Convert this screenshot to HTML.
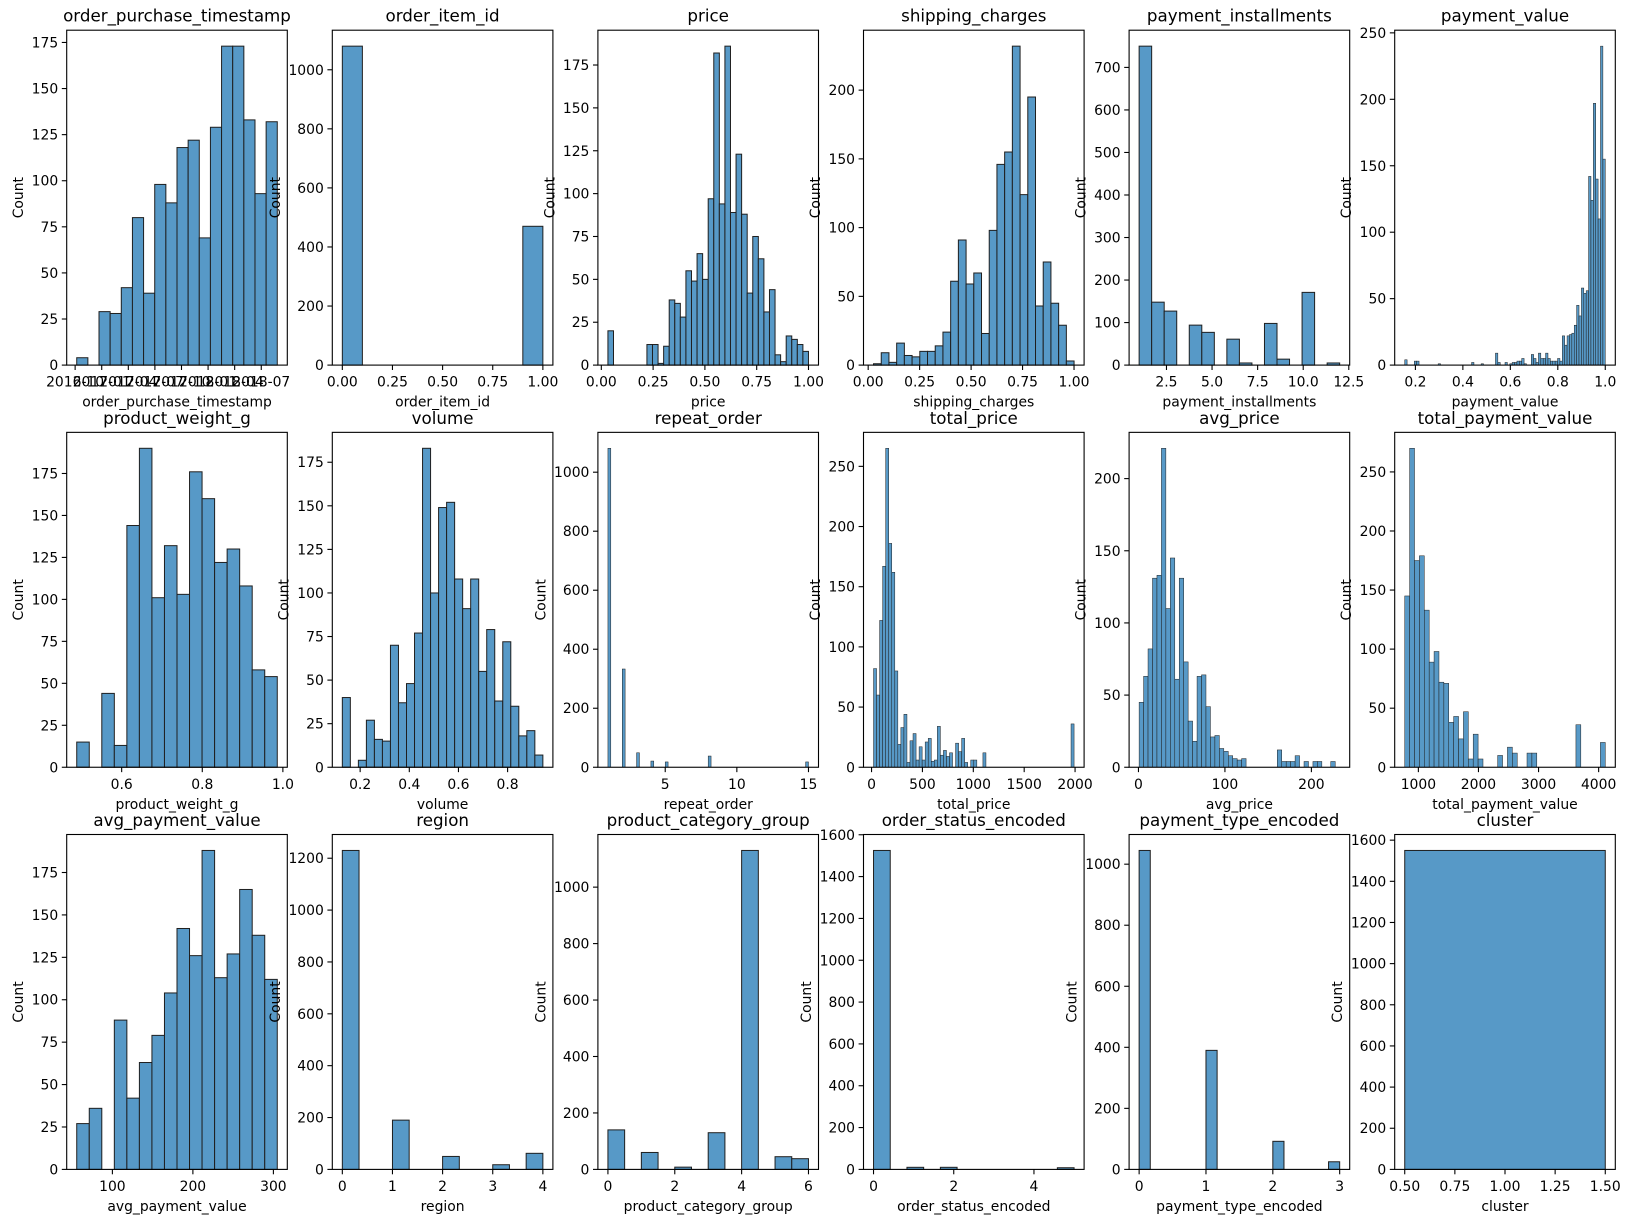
<!DOCTYPE html>
<html><head><meta charset="utf-8">
<style>
html,body{margin:0;padding:0;background:#fff;}
svg{display:block;font-family:"DejaVu Sans","Liberation Sans",sans-serif;}
</style></head>
<body>
<svg id="fig" width="1631" height="1222" viewBox="0 0 1631 1222" xmlns="http://www.w3.org/2000/svg"></svg>
<script>
// ---------- data ----------
const tsStart = 0.18, tsWidth = 1.257;
const tsCounts = [4,0,29,28,42,80,39,98,88,118,122,69,129,173,173,133,93,132];
const tsTicks = [0,3,6,9,12,15,18,21];
const tsLabels = ["2016-10","2017-01","2017-04","2017-07","2017-10","2018-01","2018-04","2018-07"];

const itemStart = 0, itemWidth = 0.1;
const itemCounts = [1080,0,0,0,0,0,0,0,0,470];

const priceStart = 0.0319, priceWidth = 0.02689;
const priceCounts = [20,0,0,0,0,0,0,12,12,1,11,38,36,28,55,49,65,50,97,182,94,186,89,123,88,42,75,62,31,44,6,2,17,15,12,8];

const shipStart = 0.026, shipWidth = 0.03747;
const shipCounts = [1,9,2,16,7,6,10,10,14,24,61,91,59,67,23,98,146,155,232,124,195,43,75,45,29,3];

const instStart = 1, instWidth = 0.6875;
const instCounts = [750,148,127,0,94,77,0,61,5,0,98,14,0,171,0,5];

const pvStart = 0.155, pvWidth = 0.01006;
const pvCounts = [4,0,0,0,3,3,0,0,0,0,0,0,0,0,1,0,0,0,0,0,0,0,0,0,0,0,0,0,2,0,0,0,1,0,0,0,0,0,9,2,0,0,2,0,1,2,2,3,3,5,1,0,0,8,5,2,9,5,5,9,5,3,3,3,5,3,22,15,22,23,24,30,45,37,58,54,56,142,124,197,140,110,240,155];

const pwStart = 0.4885, pwWidth = 0.0311;
const pwCounts = [15,0,44,13,144,190,101,132,103,176,160,122,130,108,58,54];

const volStart = 0.1275, volWidth = 0.03264;
const volCounts = [40,0,4,27,16,15,70,37,48,77,183,100,149,152,108,91,108,55,79,38,72,35,18,21,7];

const roStart = 1, roWidth = 0.2;
const roCounts = [1081,0,0,0,0,333,0,0,0,0,49,0,0,0,0,21,0,0,0,0,18,0,0,0,0,0,0,0,0,0,0,0,0,0,0,38,0,0,0,0,0,0,0,0,0,0,0,0,0,0,0,0,0,0,0,0,0,0,0,0,0,0,0,0,0,0,0,0,0,18];

const tpStart = 19.5, tpWidth = 29.86;
const tpCounts = [82,60,122,167,265,186,162,80,19,33,44,4,22,28,6,17,6,21,24,5,6,34,10,14,9,12,0,20,13,24,4,0,6,6,0,0,12,0,0,0,0,0,0,0,0,0,0,0,0,0,0,0,0,0,0,0,0,0,0,0,0,0,0,0,0,36];

const apStart = 0.77, apWidth = 5.154;
const apCounts = [45,63,82,131,133,221,110,145,61,131,73,32,18,63,64,42,21,22,13,11,8,6,5,6,0,0,0,0,0,0,0,12,4,4,4,8,0,4,0,4,4,0,0,4,0];

const tpvStart = 773, tpvWidth = 81.4;
const tpvCounts = [145,270,175,179,133,89,98,72,71,38,43,24,47,7,28,7,0,0,0,10,0,17,12,0,0,12,12,0,0,0,0,0,0,0,0,36,0,0,0,0,21];

const apvStart = 55.7, apvWidth = 15.57;
const apvCounts = [27,36,0,88,42,63,79,104,142,126,188,113,127,165,138,112];

const regStart = 0, regWidth = 1/3;
const regCounts = [1230,0,0,190,0,0,50,0,0,18,0,62];

const pcgStart = 0, pcgWidth = 0.5;
const pcgCounts = [140,0,60,0,8,0,130,0,1130,0,45,38];

const osStart = 0, osWidth = 5/12;
const osCounts = [1525,0,10,0,10,0,0,0,0,0,0,8];

const ptStart = 0, ptWidth = 1/6;
const ptCounts = [1045,0,0,0,0,0,390,0,0,0,0,0,92,0,0,0,0,25];

const clStart = 0.5, clWidth = 1;
const clCounts = [1550];

// ---------- specs ----------
const charts = [
 {id:"order-purchase-timestamp",title:"order_purchase_timestamp",s:tsStart,w:tsWidth,c:tsCounts,xt:tsTicks,xl:tsLabels,yt:25},
 {id:"order-item-id",title:"order_item_id",s:itemStart,w:itemWidth,c:itemCounts,xt:[0,0.25,0.5,0.75,1],xl:["0.00","0.25","0.50","0.75","1.00"],yt:200},
 {id:"price",title:"price",s:priceStart,w:priceWidth,c:priceCounts,xt:[0,0.25,0.5,0.75,1],xl:["0.00","0.25","0.50","0.75","1.00"],yt:25},
 {id:"shipping-charges",title:"shipping_charges",s:shipStart,w:shipWidth,c:shipCounts,xt:[0,0.25,0.5,0.75,1],xl:["0.00","0.25","0.50","0.75","1.00"],yt:50},
 {id:"payment-installments",title:"payment_installments",s:instStart,w:instWidth,c:instCounts,xt:[2.5,5,7.5,10,12.5],xl:["2.5","5.0","7.5","10.0","12.5"],yt:100},
 {id:"payment-value",title:"payment_value",s:pvStart,w:pvWidth,c:pvCounts,xt:[0.2,0.4,0.6,0.8,1.0],xl:["0.2","0.4","0.6","0.8","1.0"],yt:50},
 {id:"product-weight-g",title:"product_weight_g",s:pwStart,w:pwWidth,c:pwCounts,xt:[0.6,0.8,1.0],xl:["0.6","0.8","1.0"],yt:25},
 {id:"volume",title:"volume",s:volStart,w:volWidth,c:volCounts,xt:[0.2,0.4,0.6,0.8],xl:["0.2","0.4","0.6","0.8"],yt:25},
 {id:"repeat-order",title:"repeat_order",s:roStart,w:roWidth,c:roCounts,xt:[5,10,15],xl:["5","10","15"],yt:200},
 {id:"total-price",title:"total_price",s:tpStart,w:tpWidth,c:tpCounts,xt:[0,500,1000,1500,2000],xl:["0","500","1000","1500","2000"],yt:50},
 {id:"avg-price",title:"avg_price",s:apStart,w:apWidth,c:apCounts,xt:[0,100,200],xl:["0","100","200"],yt:50},
 {id:"total-payment-value",title:"total_payment_value",s:tpvStart,w:tpvWidth,c:tpvCounts,xt:[1000,2000,3000,4000],xl:["1000","2000","3000","4000"],yt:50},
 {id:"avg-payment-value",title:"avg_payment_value",s:apvStart,w:apvWidth,c:apvCounts,xt:[100,200,300],xl:["100","200","300"],yt:25},
 {id:"region",title:"region",s:regStart,w:regWidth,c:regCounts,xt:[0,1,2,3,4],xl:["0","1","2","3","4"],yt:200},
 {id:"product-category-group",title:"product_category_group",s:pcgStart,w:pcgWidth,c:pcgCounts,xt:[0,2,4,6],xl:["0","2","4","6"],yt:200},
 {id:"order-status-encoded",title:"order_status_encoded",s:osStart,w:osWidth,c:osCounts,xt:[0,2,4],xl:["0","2","4"],yt:200},
 {id:"payment-type-encoded",title:"payment_type_encoded",s:ptStart,w:ptWidth,c:ptCounts,xt:[0,1,2,3],xl:["0","1","2","3"],yt:200},
 {id:"cluster",title:"cluster",s:clStart,w:clWidth,c:clCounts,xt:[0.5,0.75,1,1.25,1.5],xl:["0.50","0.75","1.00","1.25","1.50"],yt:200}
];

const NS = "http://www.w3.org/2000/svg";
const fig = document.getElementById("fig");
function mk(tag, attrs, parent){
  const e = document.createElementNS(NS, tag);
  for (const k in attrs) e.setAttribute(k, attrs[k]);
  parent.appendChild(e);
  return e;
}
const AX_W = 220.6, AX_H = 334.9;
const FS = 13.9;

charts.forEach((ch, idx) => {
  const col = idx % 6, row = Math.floor(idx / 6);
  const L = 66.7 + 265.6 * col, T = 30.2 + 402.15 * row;
  const B = T + AX_H, R = L + AX_W;
  const lo = ch.s, hi = ch.s + ch.w * ch.c.length;
  const pad = 0.05 * (hi - lo);
  const x0 = lo - pad, x1 = hi + pad;
  const ymax = Math.max(...ch.c) * 1.05;
  const sx = v => L + (v - x0) / (x1 - x0) * AX_W;
  const sy = v => B - v / ymax * AX_H;

  const g = mk("g", {}, fig);
  
  

  // bars
  const bw = ch.w / (x1 - x0) * AX_W;
  const sw = bw < 5 ? 0.5 : 1;
  ch.c.forEach((cnt, k) => {
    if (cnt <= 0) return;
    const xa = sx(ch.s + k * ch.w), xb = sx(ch.s + (k + 1) * ch.w);
    const r = mk("rect", {x: xa, y: sy(cnt), width: xb - xa, height: sy(0) - sy(cnt),
      fill: "#5799c7", stroke: "#1f1f1f", "stroke-width": sw}, g);
    
    
  });

  // frame
  const fr = mk("rect", {x: L, y: T, width: AX_W, height: AX_H, fill: "none", stroke: "#000", "stroke-width": 1.1}, g);
  
  

  // x ticks
  ch.xt.forEach((v, i) => {
    if (v < x0 - 1e-9 || v > x1 + 1e-9) return;
    const x = sx(v);
    mk("line", {x1: x, x2: x, y1: B, y2: B + 4.9, stroke: "#000", "stroke-width": 1.1}, g);
    const t = mk("text", {x: x, y: B + 21.5, "font-size": FS, "text-anchor": "middle", fill: "#000"}, g);
    t.textContent = ch.xl[i];
    
    
  });

  // y ticks
  let maxW = 0;
  for (let v = 0; v <= ymax + 1e-9; v += ch.yt) {
    const y = sy(v);
    mk("line", {x1: L - 4.9, x2: L, y1: y, y2: y, stroke: "#000", "stroke-width": 1.1}, g);
    const t = mk("text", {x: L - 8.5, y: y + 5, "font-size": FS, "text-anchor": "end", fill: "#000"}, g);
    t.textContent = String(v);
    
    
    maxW = Math.max(maxW, String(v).length * 8.84);
  }

  // title
  const tt = mk("text", {x: L + AX_W / 2, y: T - 8.5, "font-size": 16.7, "text-anchor": "middle", fill: "#000"}, g);
  tt.textContent = ch.title;
  
  

  // x label
  const xl = mk("text", {x: L + AX_W / 2, y: B + 41.5, "font-size": FS, "text-anchor": "middle", fill: "#000"}, g);
  xl.textContent = ch.title;
  
  

  // y label
  const yx = L - 8.5 - maxW - 5.6 - 3;
  const yl = mk("text", {x: yx, y: T + AX_H / 2, "font-size": FS, "text-anchor": "middle", fill: "#000",
    transform: "rotate(-90 " + yx + " " + (T + AX_H / 2) + ")"}, g);
  yl.textContent = "Count";
  
  
});
</script>
</body></html>
